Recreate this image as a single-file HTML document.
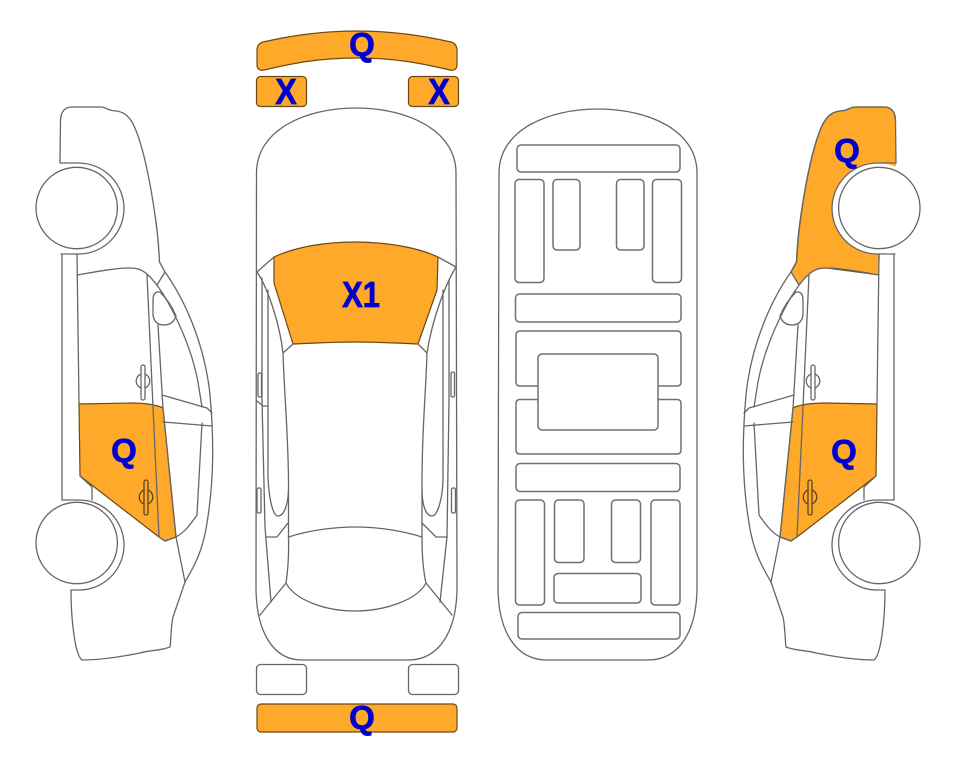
<!DOCTYPE html>
<html><head><meta charset="utf-8"><style>
html,body{margin:0;padding:0;background:#fff}
svg{display:block}
.l{fill:none;stroke:#666;stroke-width:1.3;stroke-linejoin:round;stroke-linecap:round}
.o{fill:#ffa92b;stroke:#6b4a14;stroke-width:1.2;stroke-linejoin:round}
.n{fill:#ffa92b;stroke:none}
.b{fill:none;stroke:#707070;stroke-width:1.5}
text{font-family:"Liberation Sans",sans-serif;font-weight:bold;fill:#0000d2;stroke:#0000d2;stroke-width:.7;text-anchor:middle}
</style></head><body>
<svg width="963" height="768" viewBox="0 0 963 768" xmlns="http://www.w3.org/2000/svg">
<defs>
<g id="side">
<path class="l" d="M60,163 L60.5,120 C61,111 65,107 72,107 L100,107 C106,107 108,110 112,110.5 C122,111 127,114 132,122 C142,140 150,180 155,215 C158,235 159,250 159.5,262 L165,272 C185,300 205,345 210,395 C214,440 214,480 207,523 C203,550 195,565 185,582 L173,617 C171,625 171,640 170,647 C160,651 150,650 140,653 C120,657 100,660 82,660 C75,655 71,620 71,590"/>
<path class="l" d="M60,163 H78.500 A45.500,45.500 0 0 1 78.500,254 H61"/>
<path class="l" d="M62,500 H79 A45,45 0 0 1 79,590 H71"/>
<circle cx="76.700" cy="208" r="40.700" fill="#fff" stroke="#666" stroke-width="1.300"/>
<circle cx="76.700" cy="543" r="40.700" fill="#fff" stroke="#666" stroke-width="1.300"/>
<path class="l" d="M62,254 V500 M77,254 L79,404 M80,476 L92,487 V500"/>
<path class="l" d="M77,275 C95,272 115,268 130,268 C138,268 142,270 147,274 C165,290 190,340 198,382 L202,407"/>
<path class="l" d="M147,275 L153,407 L159,537 M158,325 L163,408 L176,537 L185,582 M157,285 L165,272"/>
<path class="l" d="M157,292 C154,293 153,296 153,300 L153,315 C154,322 158,325 164,325 C170,325 174,322 176,316 C172,306 166,298 160,292 Z"/>
<path class="l" d="M162,395 L207,408 L212,413 M163,422 L212,426 M202,423 L197,515 C190,525 185,532 176,537 M159,537 L165,541 L176,537"/>
<rect class="l" x="141" y="365" width="4" height="35" rx="2"/>
<path class="l" d="M141,374 A7.500,7.500 0 0 0 141,388 M145,374 A7.500,7.500 0 0 1 145,388"/>
<rect class="l" x="144" y="480" width="4" height="35" rx="2" style="stroke:#5a4320"/>
<path class="l" style="stroke:#5a4320" d="M144,490 A7.500,7.500 0 0 0 144,504 M148,490 A7.500,7.500 0 0 1 148,504"/>
</g>
</defs>

<!-- left car -->
<path class="o" d="M79,404 L130,403 C142,403 155,404 163,408 L176,537 L165,541 L159,537 L80,476 Z"/>
<use href="#side"/>

<!-- right car -->
<path class="n" d="M791,272 L796.500,262 C797,250 798,235 801,215 C806,180 814,140 824,122 C829,114 834,111 844,110.500 C848,110 850,107 856,107 L884,107 C891,107 895,111 895.500,120 L896,164 L880,254 L879,275 L826,268 C818,268 814,270 809,274 L799,285 Z"/>
<path d="M791,272 L796.500,262 C797,250 798,235 801,215 C806,180 814,140 824,122 C829,114 834,111 844,110.500 C848,110 850,107 856,107 L884,107 C891,107 895,111 895.500,120" fill="none" stroke="#6b4a14" stroke-width="1.300"/>
<path d="M879,275 L826,268 C818,268 814,270 809,274" fill="none" stroke="#6b4a14" stroke-width="1.100"/>
<circle cx="877.500" cy="208.500" r="45.500" fill="#fff"/>
<path d="M896.500,160 h3 v96 h-3 z" fill="#fff"/>
<path class="o" d="M877,404 L826,403 C814,403 801,404 793,408 L780,537 L791,541 L797,537 L876,476 Z"/>
<use href="#side" transform="translate(956,0) scale(-1,1)"/>

<!-- top view -->
<path class="o" d="M257,51 C257,46 259,43 263,42 C290,36 320,31 357,31 C394,31 424,36 451,42 C455,43 457,46 457,51 L457,65 C457,69 454,71 450,70 C420,63 395,58 357,58 C319,58 294,63 264,70 C260,71 257,69 257,65 Z"/>
<rect class="o" x="256.500" y="76.500" width="50" height="30" rx="4"/>
<rect class="o" x="408.500" y="76.500" width="50" height="30" rx="4"/>
<path class="l" d="M256.500,173 C256.500,130 305,108 356,108 C407,108 456,130 456,173 L457,587 C457,630 440,660 408,660 L302,660 C272,660 256,630 256,587 Z"/>
<path class="o" d="M274,257 C295,247 325,242 355,242 C385,242 417,247 438,257 L437,290 L418,344 C395,343 375,342 355,342 C335,342 315,343 293,344 L274,283 Z"/>
<path class="l" d="M257,272 L274,257 M438,257 L456,267 M257,272 C268,288 280,325 283,353 L293,344 M283,353 C284,390 288,430 288.500,480 L288.500,537 C289,555 288,570 286,583 L260,615"/>
<path class="l" d="M456,267 C445,285 432,320 427,353 L418,344 M427,353 C426,390 422,430 422,480 L422,537 C422,555 423,570 426,583 L452,615"/>
<path class="l" d="M262,278 V400 L265,527 L271,602 M268,290 V477 C269,500 273,516 278,516 C284,516 288,505 288.500,490"/>
<path class="l" d="M443,290 V477 C443,500 437,516 432,516 C426,516 422,505 422,490 M449,280 V400 L447,537 L440,602"/>
<path class="l" d="M257,401 L263,406 H268 M266,537 H277 L288,523 M422,523 L436,537 H447"/>
<path class="l" d="M288.500,537 C310,530 335,527 355,527 C375,527 400,530 422,537 M286,583 C295,600 325,611 355,611 C385,611 417,600 426,583"/>
<rect class="l" x="258" y="373" width="3.500" height="24" rx="1.500"/>
<rect class="l" x="257" y="488" width="4" height="25" rx="1.500"/>
<rect class="l" x="451" y="372" width="3.500" height="25" rx="1.500"/>
<rect class="l" x="451.500" y="488" width="4" height="25" rx="1.500"/>
<rect class="l" x="256.500" y="664.500" width="50" height="30" rx="4"/>
<rect class="l" x="408.500" y="664.500" width="50" height="30" rx="4"/>
<rect class="o" x="257" y="704" width="200" height="28" rx="4"/>

<!-- floor view -->
<path class="l" d="M499,173 C499,130 548,109 598,109 C648,109 697,130 697,173 L697,587 C697,630 680,660 648,660 L547,660 C515,660 498,630 498,587 Z"/>
<rect class="b" x="517" y="145" width="163" height="27" rx="4"/>
<rect class="b" x="515" y="179.500" width="29" height="103" rx="4"/>
<rect class="b" x="553" y="179.500" width="27" height="70.500" rx="4"/>
<rect class="b" x="616.500" y="179.500" width="27.500" height="70.500" rx="4"/>
<rect class="b" x="652.500" y="179.500" width="29" height="103" rx="4"/>
<rect class="b" x="515.500" y="294" width="165.500" height="28" rx="4"/>
<path class="b" d="M538,386 H520 Q516,386 516,382 V335 Q516,331 520,331 H677 Q681,331 681,335 V382 Q681,386 677,386 H658"/>
<path class="b" d="M538,399.500 H520 Q516,399.500 516,403.500 V450 Q516,454 520,454 H677 Q681,454 681,450 V403.500 Q681,399.500 677,399.500 H658"/>
<rect class="b" x="538" y="354" width="120" height="76" rx="4"/>
<rect class="b" x="516" y="463.500" width="164" height="28" rx="4"/>
<rect class="b" x="515.500" y="500" width="29" height="105" rx="4"/>
<rect class="b" x="554.500" y="500" width="29.500" height="62.500" rx="4"/>
<rect class="b" x="611.500" y="500" width="29" height="62.500" rx="4"/>
<rect class="b" x="651" y="500" width="29" height="105" rx="4"/>
<rect class="b" x="554" y="573.500" width="87" height="29.500" rx="4"/>
<rect class="b" x="518" y="612.500" width="162" height="26.500" rx="4"/>

<!-- labels -->
<text x="362" y="56" font-size="33">Q</text>
<text transform="translate(286,104) scale(.9,1)" font-size="36">X</text>
<text transform="translate(439,104) scale(.9,1)" font-size="36">X</text>
<text transform="translate(361,307) scale(.86,1)" font-size="36">X1</text>
<text x="362" y="729" font-size="33">Q</text>
<text x="124" y="462" font-size="33">Q</text>
<text x="847" y="162" font-size="33">Q</text>
<text x="844" y="463" font-size="33">Q</text>
</svg>
</body></html>
